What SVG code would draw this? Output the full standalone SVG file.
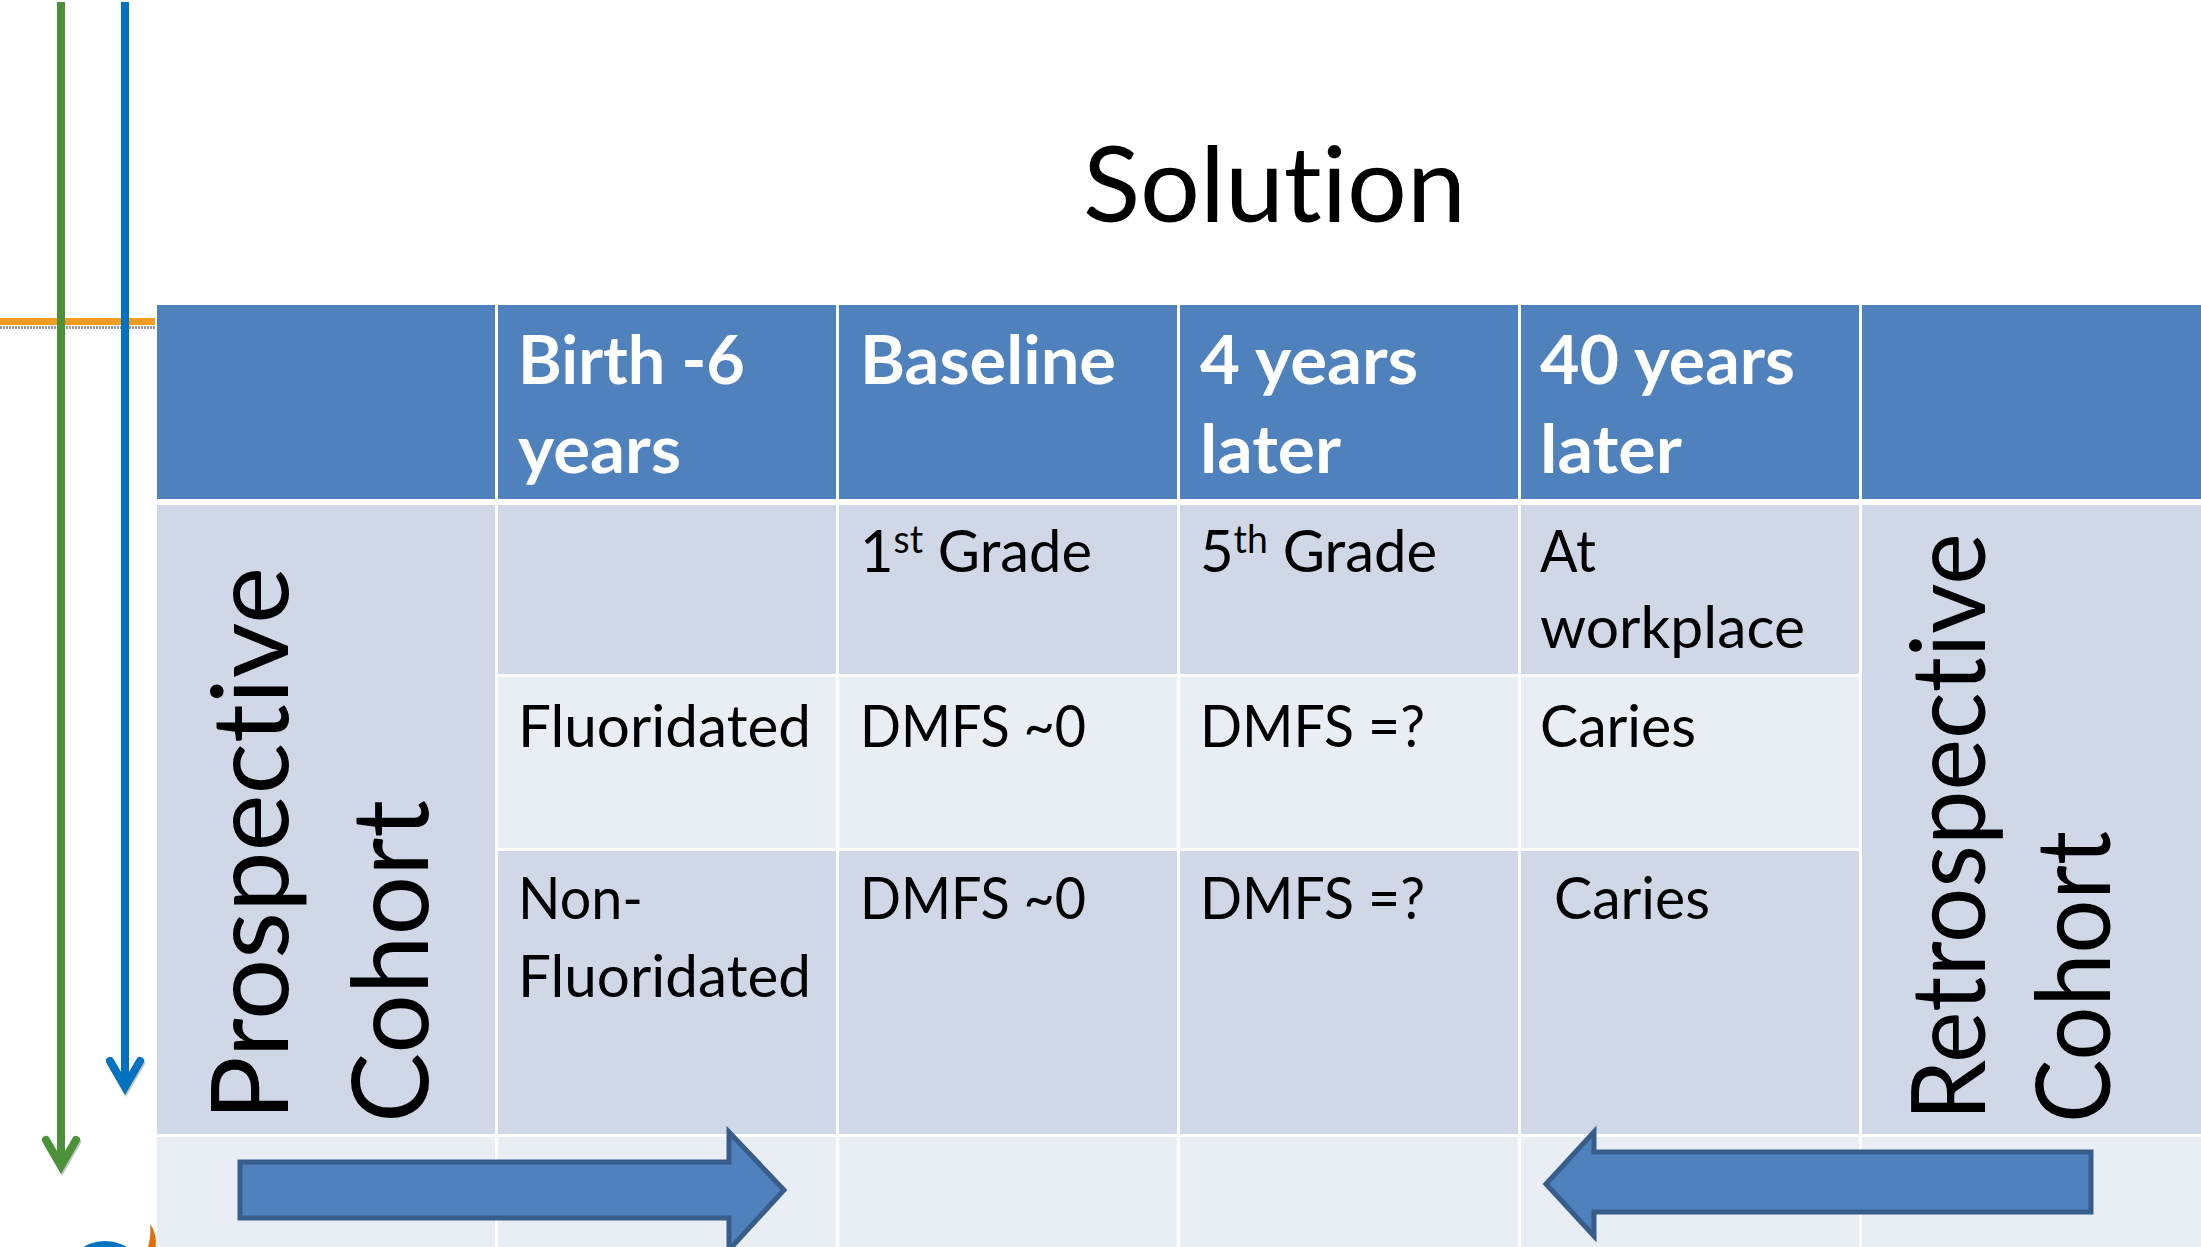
<svg xmlns="http://www.w3.org/2000/svg" width="2201" height="1247" viewBox="0 0 2201 1247">
  <style>
    text { font-variant-ligatures: none; font-feature-settings: "liga" 0, "clig" 0; }
    .hd { fill: #4F81BD; }
    .dk { fill: #D0D8E8; }
    .lt { fill: #E9EDF4; }
    .ht { font-family: Lato, "Open Sans", "Liberation Sans", sans-serif; font-weight: bold; font-size: 66px; fill: #FFFFFF; }
    .bt { font-family: Lato, "Open Sans", "Liberation Sans", sans-serif; font-size: 59px; fill: #000000; }
    .vt { font-family: Lato, "Open Sans", "Liberation Sans", sans-serif; fill: #000000; }
    .ttl { font-family: Lato, "Open Sans", "Liberation Sans", sans-serif; font-size: 105px; fill: #000000; }
    .bigarrow { fill: #4F81BD; stroke: #385D8A; stroke-width: 5; stroke-linejoin: miter; }
  </style>
  <rect x="0" y="0" width="2201" height="1247" fill="#FFFFFF"/>

  <g id="title">
    <text class="ttl" x="1083" y="222" textLength="383" lengthAdjust="spacingAndGlyphs">Solution</text>
  </g>

  <g id="table">
    <g id="header">
      <rect class="hd" x="157" y="305" width="338" height="194"/>
      <rect class="hd" x="498" y="305" width="338" height="194"/>
      <rect class="hd" x="839" y="305" width="338" height="194"/>
      <rect class="hd" x="1180" y="305" width="338" height="194"/>
      <rect class="hd" x="1521" y="305" width="338" height="194"/>
      <rect class="hd" x="1862" y="305" width="339" height="194"/>
      <text class="ht" x="518" y="384" textLength="227" lengthAdjust="spacingAndGlyphs">Birth -6</text>
      <text class="ht" x="518" y="473" textLength="163" lengthAdjust="spacingAndGlyphs">years</text>
      <text class="ht" x="860" y="384" textLength="256" lengthAdjust="spacingAndGlyphs">Baseline</text>
      <text class="ht" x="1200" y="384" textLength="218" lengthAdjust="spacingAndGlyphs">4 years</text>
      <text class="ht" x="1200" y="473" textLength="141" lengthAdjust="spacingAndGlyphs">later</text>
      <text class="ht" x="1540" y="384" textLength="255" lengthAdjust="spacingAndGlyphs">40 years</text>
      <text class="ht" x="1540" y="473" textLength="142" lengthAdjust="spacingAndGlyphs">later</text>
    </g>

    <g id="prospective">
      <rect class="dk" x="157" y="505" width="338" height="629"/>
      <text class="vt" font-size="107" transform="translate(288,1121) rotate(-90)" textLength="554" lengthAdjust="spacingAndGlyphs">Prospective</text>
      <text class="vt" font-size="107" transform="translate(428,1123) rotate(-90)" textLength="323" lengthAdjust="spacingAndGlyphs">Cohort</text>
    </g>
    <g id="retrospective">
      <rect class="dk" x="1862" y="505" width="339" height="629"/>
      <text class="vt" font-size="102" transform="translate(1985,1121) rotate(-90)" textLength="588" lengthAdjust="spacingAndGlyphs">Retrospective</text>
      <text class="vt" font-size="102" transform="translate(2110,1123) rotate(-90)" textLength="292" lengthAdjust="spacingAndGlyphs">Cohort</text>
    </g>

    <g id="row1">
      <rect class="dk" x="498" y="505" width="338" height="169"/>
      <rect class="dk" x="839" y="505" width="338" height="169"/>
      <rect class="dk" x="1180" y="505" width="338" height="169"/>
      <rect class="dk" x="1521" y="505" width="338" height="169"/>
      <text class="bt" x="860" y="572" textLength="232" lengthAdjust="spacingAndGlyphs">1<tspan font-size="38" dy="-19">st</tspan><tspan dy="19"> Grade</tspan></text>
      <text class="bt" x="1200" y="572" textLength="237" lengthAdjust="spacingAndGlyphs">5<tspan font-size="38" dy="-19">th</tspan><tspan dy="19"> Grade</tspan></text>
      <text class="bt" x="1540" y="572" textLength="56" lengthAdjust="spacingAndGlyphs">At</text>
      <text class="bt" x="1540" y="648" textLength="265" lengthAdjust="spacingAndGlyphs">workplace</text>
    </g>

    <g id="row2">
      <rect class="lt" x="498" y="677" width="338" height="171"/>
      <rect class="lt" x="839" y="677" width="338" height="171"/>
      <rect class="lt" x="1180" y="677" width="338" height="171"/>
      <rect class="lt" x="1521" y="677" width="338" height="171"/>
      <text class="bt" x="518" y="747" textLength="293" lengthAdjust="spacingAndGlyphs">Fluoridated</text>
      <text class="bt" x="860" y="747" textLength="226" lengthAdjust="spacingAndGlyphs">DMFS ~0</text>
      <text class="bt" x="1200" y="747" textLength="225" lengthAdjust="spacingAndGlyphs">DMFS =?</text>
      <text class="bt" x="1540" y="747" textLength="156" lengthAdjust="spacingAndGlyphs">Caries</text>
    </g>

    <g id="row3">
      <rect class="dk" x="498" y="851" width="338" height="283"/>
      <rect class="dk" x="839" y="851" width="338" height="283"/>
      <rect class="dk" x="1180" y="851" width="338" height="283"/>
      <rect class="dk" x="1521" y="851" width="338" height="283"/>
      <text class="bt" x="518" y="919" textLength="125" lengthAdjust="spacingAndGlyphs">Non-</text>
      <text class="bt" x="518" y="997" textLength="293" lengthAdjust="spacingAndGlyphs">Fluoridated</text>
      <text class="bt" x="860" y="919" textLength="226" lengthAdjust="spacingAndGlyphs">DMFS ~0</text>
      <text class="bt" x="1200" y="919" textLength="225" lengthAdjust="spacingAndGlyphs">DMFS =?</text>
      <text class="bt" x="1554" y="919" textLength="156" lengthAdjust="spacingAndGlyphs">Caries</text>
    </g>

    <g id="row4">
      <rect class="lt" x="157" y="1137" width="338" height="115"/>
      <rect class="lt" x="498" y="1137" width="338" height="115"/>
      <rect class="lt" x="839" y="1137" width="338" height="115"/>
      <rect class="lt" x="1180" y="1137" width="338" height="115"/>
      <rect class="lt" x="1521" y="1137" width="338" height="115"/>
      <rect class="lt" x="1862" y="1137" width="339" height="115"/>
    </g>
  </g>

  <g id="arrow-right">
    <polygon class="bigarrow" points="240,1162 729,1162 729,1132 784,1190 729,1250 729,1218 240,1218"/>
  </g>
  <g id="arrow-left">
    <polygon class="bigarrow" points="2091,1152 1594,1152 1594,1132 1546,1184 1594,1236 1594,1212 2091,1212"/>
  </g>

  <g id="partial-shapes">
    <circle cx="105" cy="1282" r="41" fill="#0070C0"/>
    <path d="M150,1224 C156,1232 157,1242 155,1250 L147,1250 C150,1242 151,1233 150,1224 Z" fill="#E46C0A"/>
  </g>

  <g id="connectors">
    <rect x="0" y="318" width="155" height="7" fill="#F39C1F"/>
    <line x1="0" y1="327.5" x2="155" y2="327.5" stroke="#9A9A9A" stroke-width="3" stroke-dasharray="2 1"/>
    <g fill="none" stroke="#A0A0A0" stroke-width="8" stroke-linecap="round" opacity="0.6">
      <polyline points="47,1142 62,1168 77,1142"/>
      <polyline points="111,1063 126,1089 141,1063"/>
    </g>
    <line x1="61" y1="2" x2="61" y2="1166" stroke="#4A9137" stroke-width="8"/>
    <polyline points="46,1140 61,1166 76,1140" fill="none" stroke="#4A9137" stroke-width="8" stroke-linecap="round" stroke-linejoin="miter"/>
    <line x1="125" y1="2" x2="125" y2="1087" stroke="#0072C1" stroke-width="8"/>
    <polyline points="110,1061 125,1087 140,1061" fill="none" stroke="#0072C1" stroke-width="8" stroke-linecap="round" stroke-linejoin="miter"/>
  </g>
</svg>
